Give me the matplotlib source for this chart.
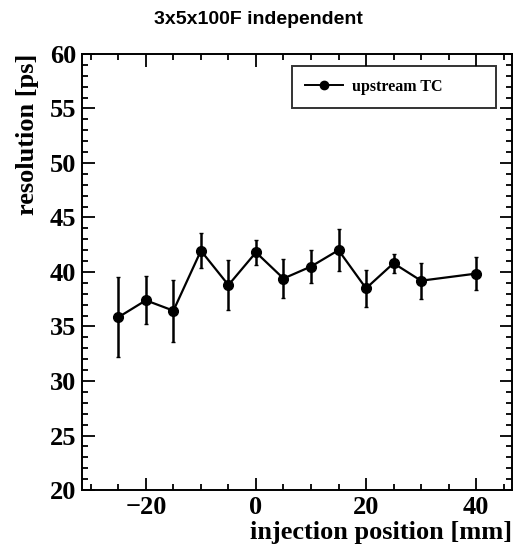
import numpy as np
import matplotlib
matplotlib.use("Agg")
from matplotlib import pyplot as plt
from matplotlib.lines import Line2D
from matplotlib.ticker import MultipleLocator

# injection position [mm] vs. resolution [ps]
position = [-25, -20, -15, -10, -5, 0, 5, 10, 15, 20, 25, 30, 40]
resolution = [35.85, 37.4, 36.45, 41.95, 38.8, 41.8, 39.4, 40.5, 42.0, 38.5, 40.8, 39.2, 39.85]
res_err = [3.65, 2.2, 2.85, 1.6, 2.3, 1.15, 1.8, 1.55, 1.95, 1.7, 0.85, 1.65, 1.5]

serif = "Liberation Serif"

fig = plt.figure(figsize=(5.16, 5.5), dpi=100)
ax = fig.add_axes([0.159, 0.109, 0.833, 0.793])

ax.errorbar(position, resolution, yerr=res_err, color="black", marker="o",
            markersize=7, linewidth=1.6, elinewidth=1.8, capsize=1.5)

ax.set_xlim(-31.6, 46.5)
ax.set_ylim(20, 60)
ax.xaxis.set_major_locator(MultipleLocator(20))
ax.xaxis.set_minor_locator(MultipleLocator(5))
ax.yaxis.set_major_locator(MultipleLocator(5))
ax.yaxis.set_minor_locator(MultipleLocator(1))
ax.tick_params(which="both", direction="in", top=True, right=True, width=1.3)
ax.tick_params(which="major", length=9, pad=4)
ax.tick_params(which="minor", length=4.5)
for lab in ax.get_yticklabels():
    lab.set_fontfamily(serif)
    lab.set_fontweight("bold")
    lab.set_fontsize(19)
ax.set_xticks([-20, 0, 20, 40])
ax.set_xticklabels(["\u221220", "0", "20", "40"], fontfamily=serif,
                   fontweight="bold", fontsize=19)
for s in ax.spines.values():
    s.set_linewidth(1.4)

ax.set_xlabel("injection position [mm]", fontfamily=serif, fontweight="bold",
              fontsize=19, loc="right", labelpad=2)
ax.set_ylabel("resolution [ps]", fontfamily=serif, fontweight="bold",
              fontsize=19, loc="top", labelpad=8)

handle = Line2D([], [], color="black", marker="o", markersize=6, linewidth=1.4)
leg = ax.legend([handle], ["upstream TC"], loc="upper left",
                bbox_to_anchor=(0.488, 0.872, 0.475, 0.1), mode="expand",
                prop={"family": serif, "weight": "bold", "size": 11.5},
                frameon=True, fancybox=False, borderpad=0.8,
                handlelength=2.4, handletextpad=0.6, borderaxespad=0)
leg.get_frame().set_edgecolor("black")
leg.get_frame().set_linewidth(1.4)

fig.suptitle("3x5x100F independent", fontweight="bold", fontsize=14,
             fontfamily="Liberation Sans", y=0.98)

fig.savefig("out.png", dpi=100)
